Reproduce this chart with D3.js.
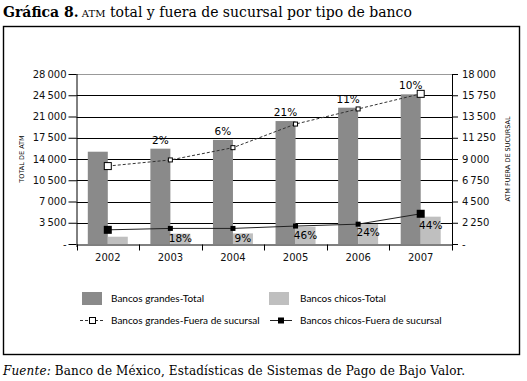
<!DOCTYPE html>
<html>
<head>
<meta charset="utf-8">
<script src="https://cdn.jsdelivr.net/npm/d3@7"></script>
<style>
  body { margin: 0; background: #fff; }
  svg { display: block; }
</style>
</head>
<body>
<div id="chart-area"></div>
<script>
// Values
var years = ["2002", "2003", "2004", "2005", "2006", "2007"];
var grandesTotal = [15200, 15700, 17150, 20250, 22450, 24650];
var chicosTotal = [1200, 1700, 1750, 2850, 3300, 4500];
var grandesFuera = [8250, 8900, 10200, 12700, 14300, 15900];
var chicosFuera = [1500, 1650, 1650, 1900, 2100, 3200];
var grandesPct = ["", "2%", "6%", "21%", "11%", "10%"];
var chicosPct = ["", "18%", "9%", "46%", "24%", "44%"];
var leftTicks = [0, 3500, 7000, 10500, 14000, 17500, 21000, 24500, 28000];
var rightTicks = [0, 2250, 4500, 6750, 9000, 11250, 13500, 15750, 18000];

var W = 527, H = 381;
var plot = { left: 76.5, right: 452, top: 74, bottom: 244 };
var sans = "'DejaVu Sans', sans-serif";
var legendFont = "Lato, sans-serif";
var serif = "'DejaVu Serif', serif";

var svg = d3.select("#chart-area")
    .append("svg")
        .attr("width", W)
        .attr("height", H);

// Title
var title = svg.append("text")
    .attr("x", 3)
    .attr("y", 17)
    .attr("font-family", serif)
    .attr("font-size", "14px");
title.append("tspan").attr("font-weight", "bold").text("Gráfica 8.");
title.append("tspan").attr("font-size", "10px").text(" ATM");
title.append("tspan").text(" total y fuera de sucursal por tipo de banco");

// Frame
svg.append("rect")
    .attr("x", 3.5)
    .attr("y", 26.5)
    .attr("width", 516)
    .attr("height", 328)
    .attr("fill", "none")
    .attr("stroke", "#000")
    .attr("stroke-width", 1.4);

// Scales
var x = d3.scaleBand()
    .domain(years)
    .range([plot.left, plot.right]);

var yL = d3.scaleLinear()
    .domain([0, 28000])
    .range([plot.bottom, plot.top]);

var yR = d3.scaleLinear()
    .domain([0, 18000])
    .range([plot.bottom, plot.top]);

var loc = d3.formatLocale({ decimal: ".", thousands: "\u2009", grouping: [3], currency: ["$", ""] });
var fmt = function(d) { return d === 0 ? "-" : loc.format(",")(d); };

// Gridlines
svg.append("g")
    .selectAll("line")
    .data(leftTicks.filter(function(d) { return d > 0; }))
    .enter().append("line")
        .attr("x1", plot.left)
        .attr("x2", plot.right)
        .attr("y1", function(d) { return Math.round(yL(d)) + 0.5; })
        .attr("y2", function(d) { return Math.round(yL(d)) + 0.5; })
        .attr("stroke", function(d) { return d === 28000 ? "#999" : "#000"; })
        .attr("stroke-width", 1);

var cx = function(i) { return x(years[i]) + x.bandwidth() / 2; };

// Bars
svg.append("g")
    .selectAll("rect")
    .data(grandesTotal)
    .enter().append("rect")
        .attr("x", function(d, i) { return cx(i) - 20; })
        .attr("y", function(d) { return yL(d); })
        .attr("width", 20)
        .attr("height", function(d) { return plot.bottom - yL(d); })
        .attr("fill", "#8a8a8a");

svg.append("g")
    .selectAll("rect")
    .data(chicosTotal)
    .enter().append("rect")
        .attr("x", function(d, i) { return cx(i); })
        .attr("y", function(d) { return yL(d); })
        .attr("width", 20)
        .attr("height", function(d) { return plot.bottom - yL(d); })
        .attr("fill", "#bfbfbf");

// Bar labels
svg.append("g")
    .selectAll("text")
    .data(grandesPct)
    .enter().append("text")
        .attr("x", function(d, i) { return cx(i) - 10; })
        .attr("y", function(d, i) { return yL(grandesTotal[i]) - 5; })
        .attr("text-anchor", "middle")
        .attr("font-family", sans)
        .attr("font-size", "10.5px")
        .text(function(d) { return d; });

svg.append("g")
    .selectAll("text")
    .data(chicosPct)
    .enter().append("text")
        .attr("x", function(d, i) { return cx(i) + 10; })
        .attr("y", function(d, i) { return Math.min(yL(chicosTotal[i]) + 12, 242); })
        .attr("text-anchor", "middle")
        .attr("font-family", sans)
        .attr("font-size", "10.5px")
        .text(function(d) { return d; });

// Lines
var lineG = d3.line()
    .x(function(d, i) { return cx(i); })
    .y(function(d) { return yR(d); });

svg.append("path")
    .datum(grandesFuera)
    .attr("d", lineG)
    .attr("fill", "none")
    .attr("stroke", "#333")
    .attr("stroke-width", 1)
    .attr("stroke-dasharray", "3,2");

svg.append("path")
    .datum(chicosFuera)
    .attr("d", lineG)
    .attr("fill", "none")
    .attr("stroke", "#222")
    .attr("stroke-width", 1);

var msize = function(i) { return (i === 0 || i === years.length - 1) ? 7 : 4; };

svg.append("g")
    .selectAll("rect")
    .data(grandesFuera)
    .enter().append("rect")
        .attr("x", function(d, i) { return cx(i) - msize(i) / 2; })
        .attr("y", function(d, i) { return yR(d) - msize(i) / 2; })
        .attr("width", function(d, i) { return msize(i); })
        .attr("height", function(d, i) { return msize(i); })
        .attr("fill", "#fff")
        .attr("stroke", "#000")
        .attr("stroke-width", 1);

svg.append("g")
    .selectAll("rect")
    .data(chicosFuera)
    .enter().append("rect")
        .attr("x", function(d, i) { return cx(i) - (msize(i) + 1) / 2; })
        .attr("y", function(d, i) { return yR(d) - (msize(i) + 1) / 2; })
        .attr("width", function(d, i) { return msize(i) + 1; })
        .attr("height", function(d, i) { return msize(i) + 1; })
        .attr("fill", "#000");

// Axes
var xAxis = svg.append("g")
    .attr("transform", "translate(0," + (plot.bottom + 0.5) + ")")
    .call(d3.axisBottom(x).tickSize(0).tickPadding(9));
xAxis.select(".domain").attr("stroke", "#000");
xAxis.selectAll("text").attr("font-family", sans).attr("font-size", "10px").attr("fill", "#111");

// category separators
xAxis.selectAll(".sep")
    .data(years.concat(["end"]))
    .enter().append("line")
        .attr("class", "sep")
        .attr("x1", function(d, i) { return Math.round(plot.left + i * x.bandwidth()) + 0.5; })
        .attr("x2", function(d, i) { return Math.round(plot.left + i * x.bandwidth()) + 0.5; })
        .attr("y1", 0)
        .attr("y2", 6)
        .attr("stroke", "#000");

var leftAxis = svg.append("g")
    .attr("transform", "translate(" + plot.left + ",0)")
    .call(d3.axisLeft(yL).tickValues(leftTicks).tickFormat(fmt).tickSize(8).tickSizeOuter(0));
leftAxis.select(".domain").attr("stroke", "#000").attr("d", "M0.5," + plot.top + "V" + (plot.bottom + 3));
leftAxis.selectAll("line").attr("stroke", "#000");
leftAxis.selectAll("text").attr("font-family", sans).attr("font-size", "10px").attr("fill", "#111").attr("x", -10);

var rightAxis = svg.append("g")
    .attr("transform", "translate(" + plot.right + ",0)")
    .call(d3.axisRight(yR).tickValues(rightTicks).tickFormat(fmt).tickSize(6).tickSizeOuter(0));
rightAxis.select(".domain").attr("stroke", "#000").attr("d", "M0.5," + plot.top + "V" + (plot.bottom + 6));
rightAxis.selectAll("line").attr("stroke", "#000");
rightAxis.selectAll("text").attr("font-family", sans).attr("font-size", "10px").attr("fill", "#111").attr("x", 10);

// Axis titles
svg.append("text")
    .attr("transform", "translate(24," + ((plot.top + plot.bottom) / 2) + ") rotate(-90)")
    .attr("text-anchor", "middle")
    .attr("font-family", sans)
    .attr("font-size", "6.5px")
    .text("TOTAL DE ATM");

svg.append("text")
    .attr("transform", "translate(510," + ((plot.top + plot.bottom) / 2) + ") rotate(-90)")
    .attr("text-anchor", "middle")
    .attr("font-family", sans)
    .attr("font-size", "6.5px")
    .text("ATM FUERA DE SUCURSAL");

// Legend
var legend = svg.append("g").attr("font-family", legendFont).attr("font-size", "10px");

legend.append("rect").attr("x", 82).attr("y", 292).attr("width", 20).attr("height", 13).attr("fill", "#8a8a8a");
legend.append("text").attr("x", 111).attr("y", 302).text("Bancos grandes-Total");

legend.append("rect").attr("x", 269).attr("y", 292).attr("width", 20).attr("height", 13).attr("fill", "#bfbfbf");
legend.append("text").attr("x", 300).attr("y", 302).text("Bancos chicos-Total");

legend.append("line").attr("x1", 80).attr("x2", 105).attr("y1", 320.5).attr("y2", 320.5)
    .attr("stroke", "#333").attr("stroke-dasharray", "3,2");
legend.append("rect").attr("x", 89.5).attr("y", 317.5).attr("width", 6).attr("height", 6)
    .attr("fill", "#fff").attr("stroke", "#000");
legend.append("text").attr("x", 111).attr("y", 324).text("Bancos grandes-Fuera de sucursal");

legend.append("line").attr("x1", 270).attr("x2", 292).attr("y1", 320.5).attr("y2", 320.5)
    .attr("stroke", "#222");
legend.append("rect").attr("x", 278).attr("y", 317.5).attr("width", 6).attr("height", 6)
    .attr("fill", "#000");
legend.append("text").attr("x", 300).attr("y", 324).text("Bancos chicos-Fuera de sucursal");

// Source note
var note = svg.append("text")
    .attr("x", 3)
    .attr("y", 375)
    .attr("font-family", serif)
    .attr("font-size", "12px")
    .attr("textLength", 462)
    .attr("lengthAdjust", "spacing");
note.append("tspan").attr("font-style", "italic").text("Fuente:");
note.append("tspan").text(" Banco de México, Estadísticas de Sistemas de Pago de Bajo Valor.");
</script>
</body>
</html>
